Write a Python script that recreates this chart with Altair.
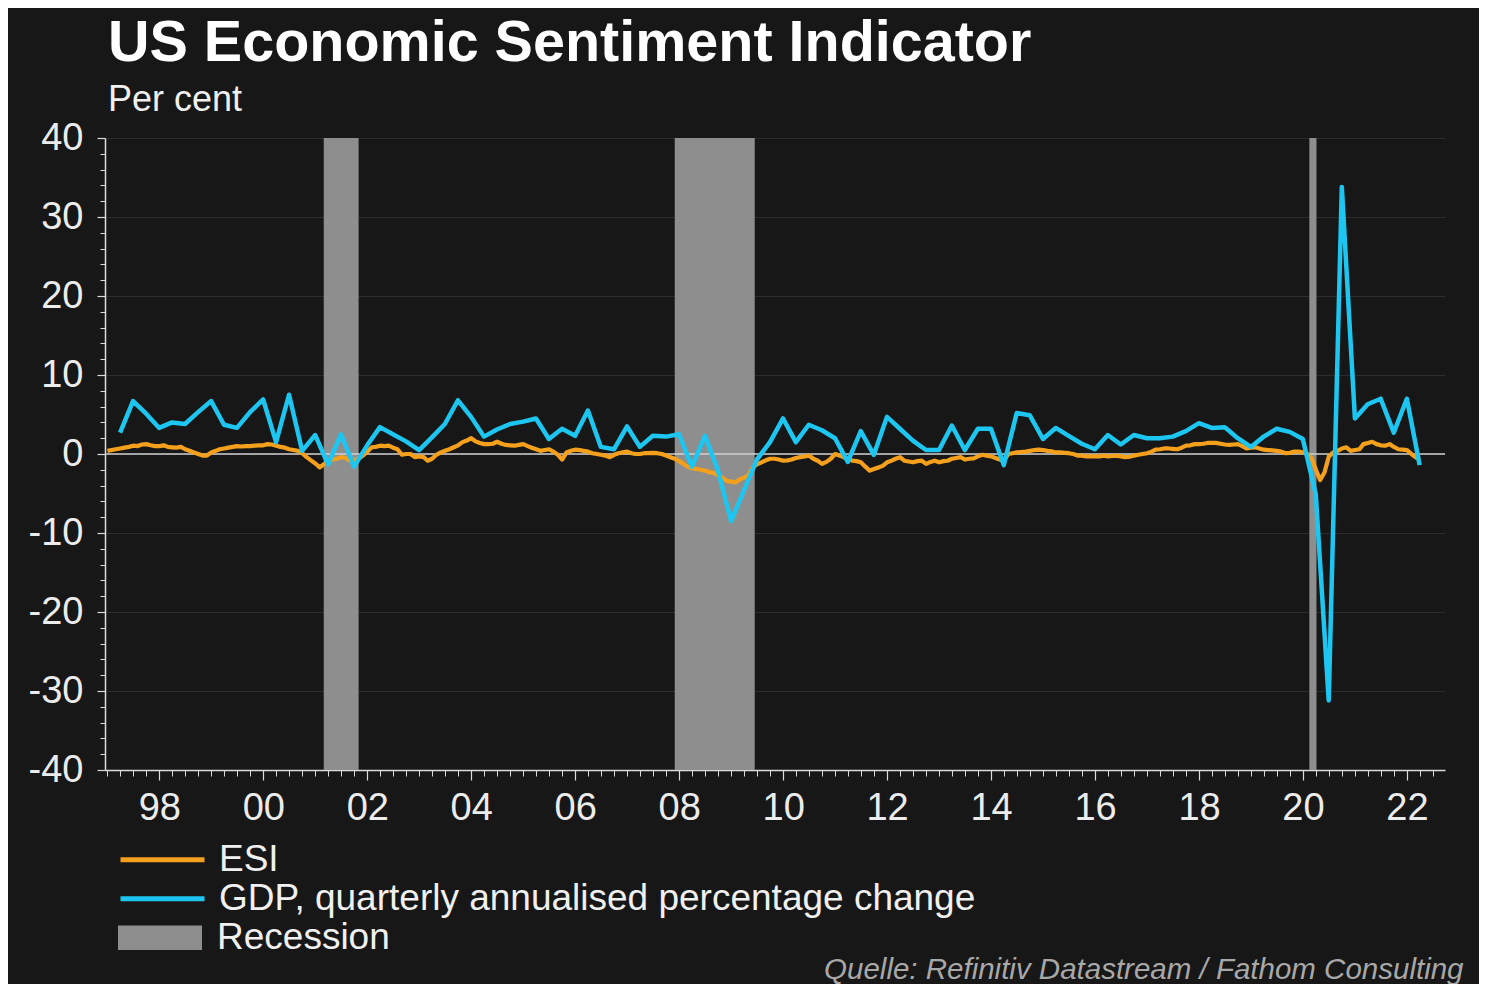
import altair as alt
import pandas as pd

# ---------------- data ----------------
gdp_q = [2.7, 6.7, 5.1, 3.3,   # 1997
         4.0, 3.8, 5.3, 6.7,   # 1998
         3.7, 3.3, 5.3, 6.9,   # 1999
         1.5, 7.5, 0.4, 2.4,   # 2000
         -1.3, 2.5, -1.6, 1.1,  # 2001
         3.4, 2.5, 1.6, 0.5,   # 2002
         2.1, 3.8, 6.8, 4.7,   # 2003
         2.2, 3.1, 3.8, 4.1,   # 2004
         4.5, 1.9, 3.2, 2.3,   # 2005
         5.5, 0.9, 0.6, 3.5,   # 2006
         0.9, 2.3, 2.2, 2.5,   # 2007
         -1.6, 2.3, -2.1, -8.5,  # 2008
         -4.6, -0.7, 1.5, 4.5,  # 2009
         1.5, 3.7, 3.0, 2.0,   # 2010
         -1.0, 2.9, -0.1, 4.7,  # 2011
         3.2, 1.7, 0.5, 0.5,   # 2012
         3.6, 0.5, 3.2, 3.2,   # 2013
         -1.4, 5.2, 4.9, 1.9,  # 2014
         3.3, 2.3, 1.3, 0.6,   # 2015
         2.4, 1.2, 2.4, 2.0,   # 2016
         2.0, 2.2, 2.9, 3.9,   # 2017
         3.3, 3.4, 2.0, 0.9,   # 2018
         2.2, 3.2, 2.8, 1.9,   # 2019
         -5.1, -31.2, 33.8, 4.5,  # 2020
         6.3, 7.0, 2.7, 7.0,   # 2021
         -1.4]                 # 2022

esi_1997 = [0.4, 0.5, 0.6, 0.7, 0.8, 0.9, 1.05, 1.0, 1.2, 1.25, 1.1, 1.0]
esi_1998 = [1.0, 1.1, 0.9, 0.85, 0.8, 0.9, 0.6, 0.4, 0.2, 0.0, -0.2, -0.2]
esi_1999 = [0.2, 0.4, 0.6, 0.7, 0.8, 0.9, 1.0, 0.95, 1.0, 1.0, 1.05, 1.1]
esi_2000 = [1.1, 1.25, 1.2, 1.05, 0.9, 0.8, 0.6, 0.5, 0.4, 0.1, -0.4, -0.8]
esi_2001 = [-1.2, -1.7, -1.3, -1.0, -0.7, -0.6, -0.4, -0.5, -0.85, -0.8, -0.6, -0.2]
esi_2002 = [0.3, 0.85, 0.9, 1.05, 1.0, 1.05, 0.8, 0.6, -0.1, 0.0, 0.0, -0.4]
esi_2003 = [-0.3, -0.4, -0.85, -0.6, -0.1, 0.2, 0.4, 0.6, 0.85, 1.1, 1.5, 1.7]
esi_2004 = [2.0, 1.6, 1.4, 1.25, 1.25, 1.3, 1.55, 1.3, 1.15, 1.1, 1.05, 1.15]
esi_2005 = [1.25, 1.0, 0.8, 0.6, 0.4, 0.5, 0.6, 0.3, -0.1, -0.7, 0.2, 0.4]
esi_2006 = [0.55, 0.5, 0.4, 0.3, 0.1, 0.0, -0.1, -0.2, -0.4, -0.1, 0.1, 0.2]
esi_2007 = [0.3, 0.1, 0.0, 0.0, 0.1, 0.1, 0.15, 0.1, 0.0, -0.2, -0.4, -0.6]
esi_2008 = [-0.9, -1.25, -1.6, -1.8, -1.9, -2.0, -2.1, -2.3, -2.4, -2.7, -3.0, -3.4]
esi_2009 = [-3.5, -3.6, -3.2, -3.0, -2.7, -1.7, -1.3, -1.05, -0.8, -0.6, -0.6, -0.7]
esi_2010 = [-0.85, -0.8, -0.7, -0.5, -0.4, -0.3, -0.2, -0.6, -0.85, -1.25, -1.0, -0.6]
esi_2011 = [0.0, -0.2, -0.4, -0.6, -0.85, -0.9, -1.05, -1.6, -2.1, -1.9, -1.7, -1.5]
esi_2012 = [-1.05, -0.85, -0.6, -0.4, -0.85, -0.95, -1.05, -0.9, -0.85, -1.25, -1.0, -0.85]
esi_2013 = [-1.05, -0.9, -0.85, -0.6, -0.5, -0.4, -0.7, -0.6, -0.55, -0.3, -0.1, -0.2]
esi_2014 = [-0.3, -0.5, -0.7, -0.85, 0.0, 0.1, 0.2, 0.25, 0.3, 0.4, 0.5, 0.55]
esi_2015 = [0.5, 0.4, 0.35, 0.2, 0.2, 0.15, 0.1, 0.0, -0.2, -0.2, -0.3, -0.3]
esi_2016 = [-0.3, -0.3, -0.2, -0.3, -0.25, -0.2, -0.3, -0.4, -0.35, -0.2, -0.1, 0.0]
esi_2017 = [0.1, 0.3, 0.55, 0.6, 0.7, 0.7, 0.65, 0.6, 0.8, 1.05, 1.1, 1.25]
esi_2018 = [1.25, 1.3, 1.4, 1.4, 1.4, 1.3, 1.2, 1.15, 1.2, 1.25, 1.0, 0.7]
esi_2019 = [0.8, 0.85, 0.7, 0.55, 0.5, 0.45, 0.4, 0.3, 0.1, 0.15, 0.3, 0.3]
esi_2020 = [0.2, 0.0, -0.5, -2.0, -3.3, -2.3, -0.3, 0.2, 0.4, 0.7, 0.85, 0.4]
esi_2021 = [0.5, 0.6, 1.25, 1.4, 1.55, 1.25, 1.1, 1.05, 1.25, 0.9, 0.6, 0.55]
esi_2022 = [0.5, 0.0, -0.4, -0.7]

esi_years = [esi_1997, esi_1998, esi_1999, esi_2000, esi_2001, esi_2002, esi_2003,
             esi_2004, esi_2005, esi_2006, esi_2007, esi_2008, esi_2009, esi_2010,
             esi_2011, esi_2012, esi_2013, esi_2014, esi_2015, esi_2016, esi_2017,
             esi_2018, esi_2019, esi_2020, esi_2021, esi_2022]

rec_start = ["2001-03-01", "2007-12-01", "2020-02-15"]
rec_end = ["2001-11-01", "2009-06-15", "2020-04-05"]

series_names = ["ESI", "GDP, quarterly annualised percentage change"]
series_colors = ["#f4a01c", "#1dc6f0"]
rec_label = "Recession"
rec_color = "#8e8e8e"

# ---------------- tables ----------------
rows = []
for i, vals in enumerate(esi_years):
    y = 1997 + i
    for m, v in enumerate(vals):
        rows.append({"date": f"{y}-{m + 1:02d}-01", "value": v, "series": series_names[0]})
q_end = ["03-31", "06-30", "09-30", "12-31"]
for i, v in enumerate(gdp_q):
    y = 1997 + i // 4
    rows.append({"date": f"{y}-{q_end[i % 4]}", "value": v, "series": series_names[1]})
lines_df = pd.DataFrame(rows)
esi_df = lines_df[lines_df.series == series_names[0]]
gdp_df = lines_df[lines_df.series == series_names[1]]
rec_df = pd.DataFrame({"start": rec_start, "end": rec_end, "label": [rec_label] * 3})
zero_df = pd.DataFrame({"v": [0]})

FONT = "Liberation Sans"
W, H = 1340, 632

xs = alt.Scale(type="utc", nice=False,
               domain=[alt.DateTime(year=1996, month=12, date=15, utc=True),
                       alt.DateTime(year=2022, month=9, date=25, utc=True)])
ys = alt.Scale(domain=[-40, 40], nice=False, zero=False)

ax_major = alt.Axis(
    orient="bottom",
    values=[alt.DateTime(year=y, month=1, date=1, utc=True) for y in range(1998, 2023, 2)],
    format="%y", labelFont=FONT, labelFontSize=38, labelColor="#ececec",
    labelPadding=9, tickSize=10, tickColor="#dcdcdc", tickWidth=1.2,
    domainColor="#dcdcdc", domainWidth=1.5, grid=False,
    title="Quelle: Refinitiv Datastream / Fathom Consulting",
    titleFont=FONT, titleFontSize=29.5, titleFontStyle="italic", titleFontWeight="normal",
    titleColor="#a8a8a8", titleAnchor="end", titleAlign="right",
    titleBaseline="alphabetic", titleX=1358, titleY=208,
)
ax_minor = alt.Axis(
    orient="bottom",
    values=[alt.DateTime(year=y, month=m, date=1, utc=True)
            for y in range(1997, 2023) for m in (1, 4, 7, 10)
            if not (y == 2022 and m == 10)],
    labels=False, domain=False, grid=False, tickSize=6, tickColor="#dcdcdc",
    tickWidth=1, title=None,
)
ay_major = alt.Axis(
    orient="left", values=list(range(-40, 41, 10)), labelExpr="'' + datum.value",
    labelFont=FONT, labelFontSize=38,
    labelColor="#ececec", labelPadding=14, tickSize=8, tickColor="#dcdcdc", tickWidth=1.2,
    domainColor="#dcdcdc", domainWidth=1.5, grid=True, gridColor="#2c2c2c",
    gridWidth=1, title=None,
)
ay_minor = alt.Axis(
    orient="left", values=[v for v in range(-40, 41, 2) if v % 10 != 0],
    labels=False, domain=False, grid=False, tickSize=5, tickColor="#dcdcdc",
    tickWidth=1, title=None,
)

legend_lines = alt.Legend(
    orient="none", legendX=13, legendY=703, direction="vertical", title=None,
    symbolType="stroke", symbolSize=7056, symbolStrokeWidth=5, clipHeight=37.5,
    rowPadding=0, labelFont=FONT, labelFontSize=37, labelColor="#f0f0f0",
    labelOffset=12, labelLimit=1200, padding=0,
)
legend_rec = alt.Legend(
    orient="none", legendX=13, legendY=781, direction="vertical", title=None,
    symbolType="M-1,-0.29H1V0.29H-1Z", symbolSize=7056, symbolStrokeWidth=0,
    clipHeight=37.5, rowPadding=0, labelFont=FONT, labelFontSize=37,
    labelColor="#f0f0f0", labelOffset=15, labelLimit=1200, padding=0,
)

color_scale = alt.Scale(domain=series_names, range=series_colors)

rec = alt.Chart(rec_df).mark_rect(opacity=1).encode(
    x=alt.X("start:T", scale=xs, axis=ax_major),
    x2="end:T",
    y=alt.YDatum(-40, scale=ys, axis=ay_major),
    y2=alt.Y2Datum(40),
    fill=alt.Fill("label:N", scale=alt.Scale(domain=[rec_label], range=[rec_color]),
                  legend=legend_rec),
)

zero = alt.Chart(zero_df).mark_rule(color="#d0d0d0", strokeWidth=1.5).encode(
    y=alt.YDatum(0, scale=ys, axis=ay_minor),
)

esi = alt.Chart(esi_df).mark_line(strokeWidth=4.2, strokeJoin="round").encode(
    x=alt.X("date:T", scale=xs, axis=ax_minor),
    y=alt.Y("value:Q", scale=ys, axis=None),
    color=alt.Color("series:N", scale=color_scale, legend=legend_lines),
)

gdp = alt.Chart(gdp_df).mark_line(strokeWidth=4.5, strokeJoin="round").encode(
    x=alt.X("date:T", scale=xs, axis=None),
    y=alt.Y("value:Q", scale=ys, axis=None),
    color=alt.Color("series:N", scale=color_scale, legend=legend_lines),
)

chart = alt.layer(rec, zero, esi, gdp).resolve_axis(
    x="independent", y="independent"
).properties(
    width=W, height=H,
    autosize=alt.AutoSizeParams(type="none"),
    padding={"left": 97, "top": 130, "right": 34, "bottom": 214},
    background="#171717",
    title=alt.TitleParams(
        text="US Economic Sentiment Indicator", subtitle="Per cent",
        anchor="start", frame="group", font=FONT, fontSize=57.5, fontWeight="bold",
        color="#ffffff", subtitleFont=FONT, subtitleFontSize=36,
        subtitleColor="#f0f0f0", subtitlePadding=10, offset=0, dx=3,
    ),
).configure_view(stroke=None)

chart.save("out.html", embed_options={"renderer": "svg", "actions": False})
